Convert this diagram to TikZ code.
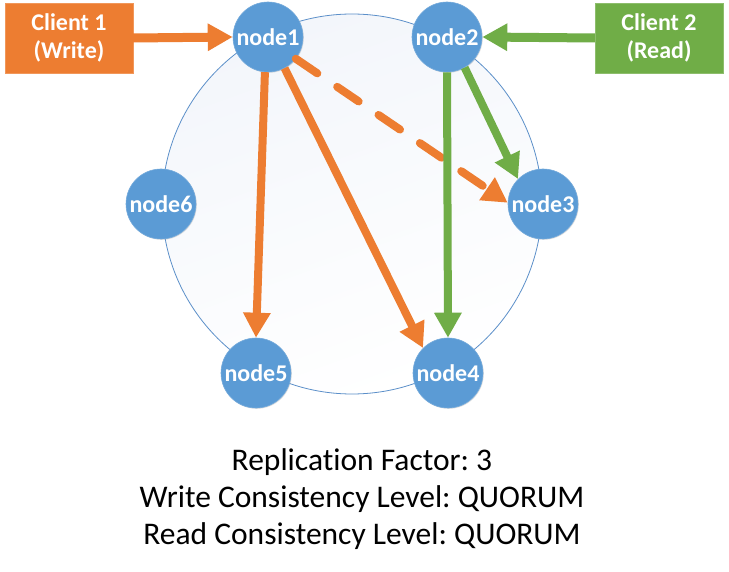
\documentclass[tikz,border=0pt]{standalone}
\usepackage{fontspec}
\setmainfont{Carlito}[Ligatures=NoCommon]
\frenchspacing
\usetikzlibrary{arrows.meta,shadows}
\definecolor{nodeblue}{HTML}{5B9BD5}
\definecolor{ringblue}{HTML}{5B8FC9}
\definecolor{ringfill}{HTML}{F3F6FB}
\definecolor{worange}{HTML}{ED7D31}
\definecolor{rgreen}{HTML}{70AD47}
\tikzset{
  ringnode/.style={circle, fill=nodeblue, draw=nodeblue!85!white, line width=0.6pt,
    minimum size=70pt, inner sep=0pt, text=white,
    font=\fontsize{24}{26}\selectfont\bfseries,
    drop shadow={opacity=0.25, shadow xshift=0.8pt, shadow yshift=-0.8pt}},
  clientbox/.style={rectangle, minimum width=128pt, minimum height=70pt, inner sep=0pt,
    text=white, align=center, font=\fontsize{24}{28}\selectfont\bfseries},
  tip/.style={-{Triangle[length=25pt,width=26pt]}},
  warrow/.style={tip, draw=worange, line width=8pt},
  rarrow/.style={tip, draw=rgreen, line width=8pt},
  ringline/.style={draw=ringblue, line width=0.8pt, top color=ringfill, bottom color=white, shading angle=20},
  caption/.style={align=center, font=\fontsize{31.5}{37}\selectfont, text=black}
}
\begin{document}
\begin{tikzpicture}[x=1pt,y=-1pt]
\useasboundingbox (0,0) rectangle (729,572);
\fill[white] (0,0) rectangle (729,572);
\draw[ringline] (352,204) circle [radius=190pt];

\node[ringnode] (n1) at (268,37) {node1};
\node[ringnode] (n2) at (447,37) {node2};
\node[ringnode] (n3) at (543,204) {node3};
\node[ringnode] (n4) at (448,373) {node4};
\node[ringnode] (n5) at (256,373) {node5};
\node[ringnode] (n6) at (161,204) {node6};

\node[clientbox, fill=worange, draw=worange!80!white] (c1) at (69,38) {Client 1\\(Write)};
\node[clientbox, fill=rgreen, draw=rgreen!80!white] (c2) at (659,38) {Client 2\\(Read)};

\draw[warrow, line width=9pt] (c1.east) -- (n1.west);
\draw[rarrow, line width=9pt] (c2.west) -- (n2.east);

\draw[warrow] (n1.-95) -- (n5.90);
\draw[warrow] (n1.-62) -- (n4.135);
\draw[warrow, dash pattern=on 26pt off 24pt, line cap=round] (n1.-38) -- (n3.178);

\draw[rarrow] (n2.-90) -- (n4.90);
\draw[rarrow] (n2.-60) -- (n3.135);

\node[caption] (cap) at (362,499) {Replication Factor: 3\\Write Consistency Level: QUORUM\\Read Consistency Level: QUORUM};
\end{tikzpicture}
\end{document}
